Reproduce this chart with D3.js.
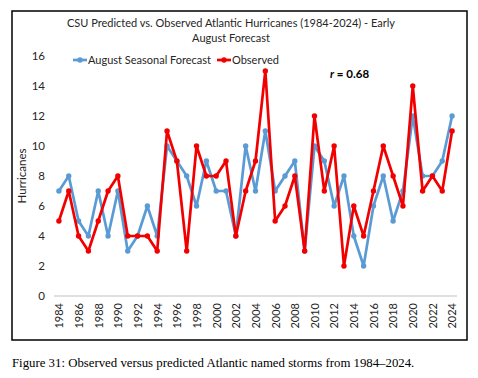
<!DOCTYPE html>
<html>
<head>
<meta charset="utf-8">
<script src="https://cdn.jsdelivr.net/npm/d3@7"></script>
<style>
  body { margin: 0; background: #fff; }
  svg { display: block; }
</style>
</head>
<body>
<div id="chart"></div>
<script>
// data
years = d3.range(1984, 2025)
forecast = [7, 8, 5, 4, 7, 4, 7, 3, 4, 6, 4, 10, 9, 8, 6, 9, 7, 7, 4, 10, 7,
            11, 7, 8, 9, 3, 10, 9, 6, 8, 4, 2, 6, 8, 5, 7, 12, 8, 8, 9, 12]
observed = [5, 7, 4, 3, 5, 7, 8, 4, 4, 4, 3, 11, 9, 3, 10, 8, 8, 9, 4, 7, 9,
            15, 5, 6, 8, 3, 12, 7, 10, 2, 6, 4, 7, 10, 8, 6, 14, 7, 8, 7, 11]
seriesNames = ["August Seasonal Forecast", "Observed"]
yTicks = [0, 2, 4, 6, 8, 10, 12, 14, 16]
titleLines = ["CSU Predicted vs. Observed Atlantic Hurricanes (1984-2024) - Early", "August Forecast"]

width = 478
height = 378
color = ["#5b9bd5", "#f20000"]
font = "Lato, 'Open Sans', sans-serif"

x = d3.scalePoint()
    .domain(years)
    .range([54, 457])
    .padding(0.5)
y = d3.scaleLinear()
    .domain([0, 16])
    .range([296, 56])

var svg = d3.select("#chart").append("svg")
    .attr("width", width)
    .attr("height", height)
    .style("font-family", font)

// chart frame
svg.append("rect")
    .attr("x", 12).attr("y", 11)
    .attr("width", 455).attr("height", 329)
    .attr("fill", "none")
    .attr("stroke", "#000")
    .attr("stroke-width", 1.5)

svg.append("g")
    .selectAll("text")
    .data(titleLines)
    .enter().append("text")
    .attr("x", 231)
    .attr("y", (d, i) => 27 + i * 15)
    .attr("text-anchor", "middle")
    .attr("fill", "#262626")
    .style("font-size", "11px")
    .text(d => d)

// y axis: labels only
const yAxis = svg.append("g")
    .attr("transform", "translate(54,0)")
    .call(d3.axisLeft(y).tickValues(yTicks).tickSize(0).tickPadding(9))
yAxis.select(".domain").remove()
yAxis.selectAll("text")
    .style("font-family", font)
    .style("font-size", "11.5px")
    .attr("fill", "#262626")

svg.append("text")
    .attr("transform", "translate(26," + y(8) + ") rotate(-90)")
    .attr("text-anchor", "middle")
    .attr("fill", "#262626")
    .style("font-size", "11.5px")
    .text("Hurricanes")

// x axis
const xAxis = svg.append("g")
    .attr("transform", `translate(0,${y(0)})`)
    .call(d3.axisBottom(x)
        .tickValues(years.filter(d => d % 2 == 0))
        .tickSize(0)
        .tickPadding(7))
xAxis.select(".domain")
    .attr("stroke", "#bfbfbf")
    .attr("d", "M54,0H457")
xAxis.selectAll("text")
    .style("font-family", font)
    .style("font-size", "11px")
    .attr("fill", "#262626")
    .style("text-anchor", "end")
    .attr("dx", "-7px")
    .attr("dy", "0.35em")
    .attr("y", 0)
    .attr("transform", "rotate(-90)")

// series
const series = [forecast, observed]
const line = d3.line()
    .x((d, i) => x(years[i]))
    .y(d => y(d))

const groups = svg.selectAll(".series")
    .data(series)
    .enter().append("g")
    .attr("class", "series")

groups.append("path")
    .attr("d", d => line(d))
    .attr("fill", "none")
    .attr("stroke", (d, i) => color[i])
    .attr("stroke-width", 2.7)
    .attr("stroke-linejoin", "round")

groups.each(function(d, i) {
    d3.select(this).selectAll("circle")
        .data(d)
        .enter().append("circle")
        .attr("cx", (v, j) => x(years[j]))
        .attr("cy", v => y(v))
        .attr("r", 2.7)
        .attr("fill", color[i])
})

// legend
const legendX = [73, 217]
const entry = svg.append("g")
    .selectAll("g")
    .data(seriesNames)
    .enter().append("g")
    .attr("transform", (d, i) => `translate(${legendX[i]},60)`)

entry.append("line")
    .attr("x1", 0).attr("x2", 14)
    .attr("stroke", (d, i) => color[i])
    .attr("stroke-width", 2.7)
entry.append("circle")
    .attr("cx", 7).attr("r", 2.7)
    .attr("fill", (d, i) => color[i])
entry.append("text")
    .attr("x", 15)
    .attr("dy", "0.35em")
    .attr("fill", "#262626")
    .style("font-size", "11px")
    .text(d => d)

// correlation note
const note = svg.append("text")
    .attr("x", 330)
    .attr("y", 78)
    .attr("fill", "#000")
    .style("font-size", "11.5px")
    .style("font-weight", "bold")
note.append("tspan").style("font-style", "italic").text("r")
note.append("tspan").text(" = 0.68")

// caption under the frame
svg.append("text")
    .attr("x", 12)
    .attr("y", 367)
    .style("font-family", "'Liberation Serif', 'Times New Roman', serif")
    .style("font-size", "12.8px")
    .attr("fill", "#000")
    .text("Figure 31: Observed versus predicted Atlantic named storms from 1984\u20132024.")
</script>
</body>
</html>
